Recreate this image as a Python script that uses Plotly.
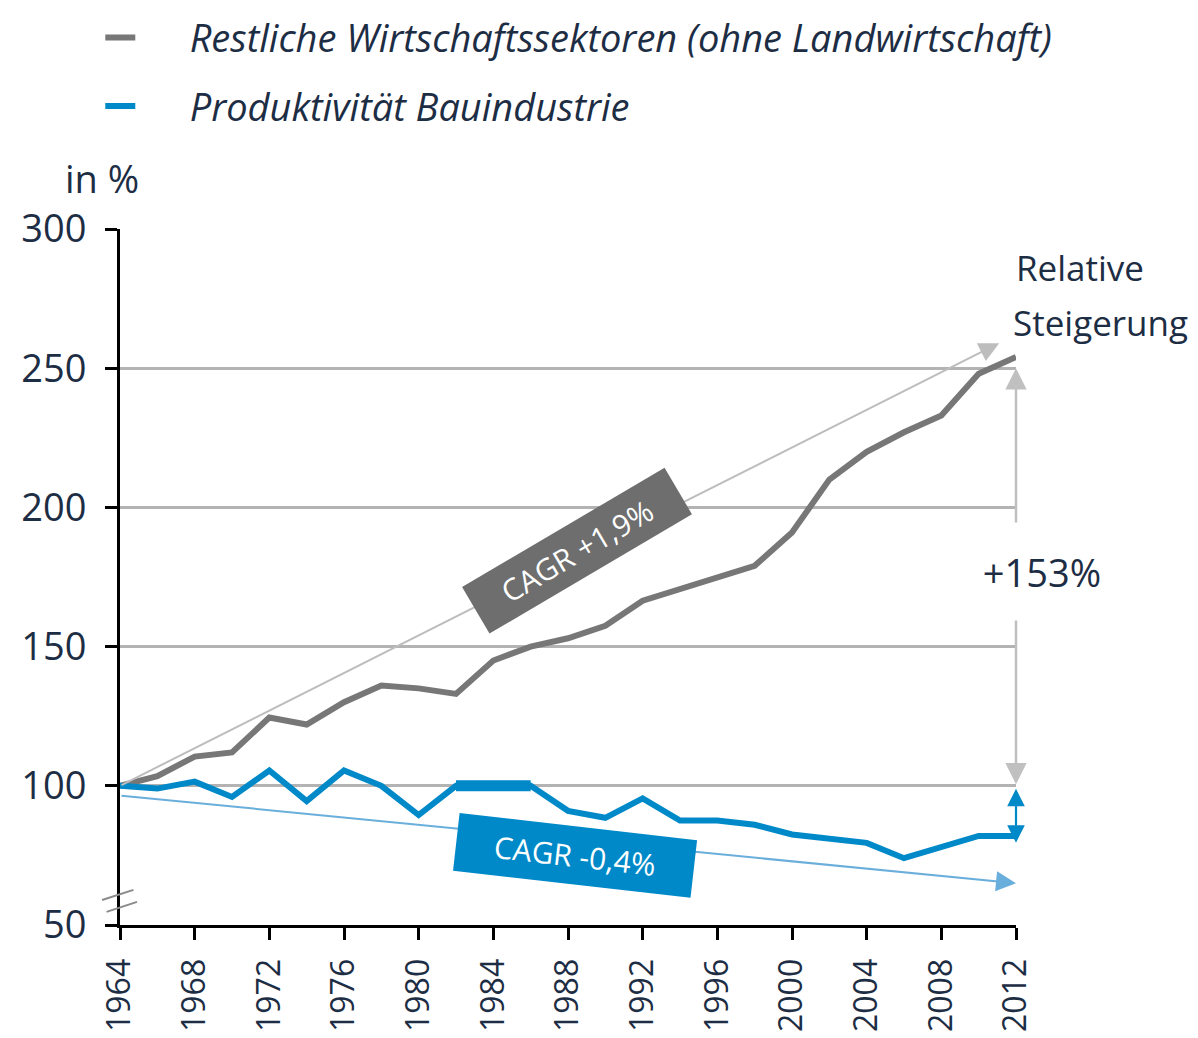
import plotly.graph_objects as go

years = list(range(1964, 2013, 2))
restliche = [100, 103.5, 110.5, 112, 124.5, 122, 130, 136, 135, 133, 145, 150, 153,
             157.5, 166.5, 170.5, 175, 179, 191, 210, 220, 227, 233, 248, 254]
bau = [100, 99, 101.5, 96, 105.5, 94.5, 105.5, 100, 89.5, 100, 100, 100, 91,
       88.5, 95.5, 87.5, 87.5, 86, 82.5, 81, 79.5, 74, 78, 82, 82]

tick_years = list(range(1964, 2013, 4))
y_ticks = [50, 100, 150, 200, 250, 300]

# trend arrows (start year, start value, end year, end value)
trend_grey = (1964, 100, 2011.1, 259)
trend_blue = (1964, 96.5, 2012, 65)
rise_grey = (100, 250)
rise_blue = (99.5, 79.5)

GREY = "#777777"
BLUE = "#0089c8"
TXT = "#1d2d44"
FONT = "Open Sans"
PAD = "&nbsp;" * 5

fig = go.Figure()
fig.add_trace(go.Scatter(x=years, y=restliche, mode="lines",
                         name=PAD + "Restliche Wirtschaftssektoren (ohne Landwirtschaft)",
                         line=dict(color=GREY, width=6), cliponaxis=False, legendgroup="a"))
fig.add_trace(go.Scatter(x=years, y=bau, mode="lines", name=PAD + "Produktivität Bauindustrie",
                         line=dict(color=BLUE, width=6), cliponaxis=False, legendgroup="b"))
fig.add_trace(go.Scatter(x=years[9:12], y=bau[9:12], mode="lines", showlegend=False,
                         line=dict(color=BLUE, width=11), cliponaxis=False))

ann = []
# trend arrows
ann.append(dict(x=trend_grey[2], y=trend_grey[3], ax=trend_grey[0], ay=trend_grey[1], xref="x", yref="y",
                axref="x", ayref="y", text="", showarrow=True, arrowhead=2, arrowsize=2.0, arrowwidth=2,
                arrowcolor="#bdbdbd"))
ann.append(dict(x=trend_blue[2], y=trend_blue[3], ax=trend_blue[0], ay=trend_blue[1], xref="x", yref="y",
                axref="x", ayref="y", text="", showarrow=True, arrowhead=2, arrowsize=2.0, arrowwidth=2,
                arrowcolor="#6aaedc"))
# vertical rise arrows
ann.append(dict(x=2012, y=rise_grey[1], ax=2012, ay=rise_grey[0], xref="x", yref="y", axref="x", ayref="y",
                text="", showarrow=True, arrowhead=2, arrowside="end+start", arrowsize=1.7, arrowwidth=2.5,
                arrowcolor="#c0c0c0"))
ann.append(dict(x=2012, y=rise_blue[1], ax=2012, ay=rise_blue[0], xref="x", yref="y", axref="x", ayref="y",
                text="", showarrow=True, arrowhead=2, arrowside="end+start", arrowsize=1.6, arrowwidth=2.2,
                arrowcolor=BLUE))
ann.append(dict(x=2012, y=177, xref="x", yref="y", xshift=26, text="+153%", showarrow=False,
                bgcolor="white", width=150, height=95, font=dict(family=FONT, size=38, color=TXT)))
# CAGR labels
ann.append(dict(x=1988.5, y=184.5, xref="x", yref="y", text="CAGR +1,9%", showarrow=False, bgcolor="#6e6e6e",
                width=232, height=51, textangle=-30.5, font=dict(family=FONT, size=30, color="white")))
ann.append(dict(x=1988.4, y=74.8, xref="x", yref="y", text="CAGR -0,4%", showarrow=False, bgcolor=BLUE,
                width=236, height=55, textangle=6.5, font=dict(family=FONT, size=30, color="white")))
# texts
ann.append(dict(x=1.0, y=0.945, xref="paper", yref="paper", xanchor="left", yanchor="middle", xshift=-2,
                text="Relative", showarrow=False, font=dict(family=FONT, size=35, color=TXT)))
ann.append(dict(x=1.0, y=0.866, xref="paper", yref="paper", xanchor="left", yanchor="middle", xshift=-5,
                text="Steigerung", showarrow=False, font=dict(family=FONT, size=35, color=TXT)))
ann.append(dict(x=-0.064, y=1.073, xref="paper", yref="paper", xanchor="left", yanchor="middle",
                text="in %", showarrow=False, font=dict(family=FONT, size=38, color=TXT)))

shapes = [
    dict(type="line", xref="paper", yref="y", x0=-0.020, y0=59.0, x1=0.015, y1=62.6,
         line=dict(color="#8a8a8a", width=2)),
    dict(type="line", xref="paper", yref="y", x0=-0.015, y0=54.7, x1=0.019, y1=58.3,
         line=dict(color="#8a8a8a", width=2)),
]

fig.update_layout(
    width=1190, height=1030,
    margin=dict(l=112, r=182, t=221, b=113, autoexpand=False),
    paper_bgcolor="white", plot_bgcolor="white",
    font=dict(family=FONT, color=TXT),
    annotations=ann, shapes=shapes,
    legend=dict(x=-0.022, y=1.32, xanchor="left", yanchor="top",
                font=dict(family=FONT, size=38, color=TXT, style="italic"), tracegroupgap=16,
                bgcolor="rgba(0,0,0,0)"),
    xaxis=dict(range=[1964, 2012], tickvals=tick_years, tickangle=-90, ticks="outside", ticklen=12,
               tickwidth=3, tickcolor="black", showline=True, linecolor="black", linewidth=3,
               showgrid=False, zeroline=False, tickfont=dict(family=FONT, size=32, color=TXT),
               ticklabelstandoff=6),
    yaxis=dict(range=[50, 300], tickvals=y_ticks, ticks="outside", ticklen=12, tickwidth=3,
               tickcolor="black", showline=True, linecolor="black", linewidth=3, showgrid=True,
               gridcolor="#b3b3b3", gridwidth=3, zeroline=False,
               tickfont=dict(family=FONT, size=38, color=TXT), ticklabelstandoff=11),
)

fig.write_html("out.html")
